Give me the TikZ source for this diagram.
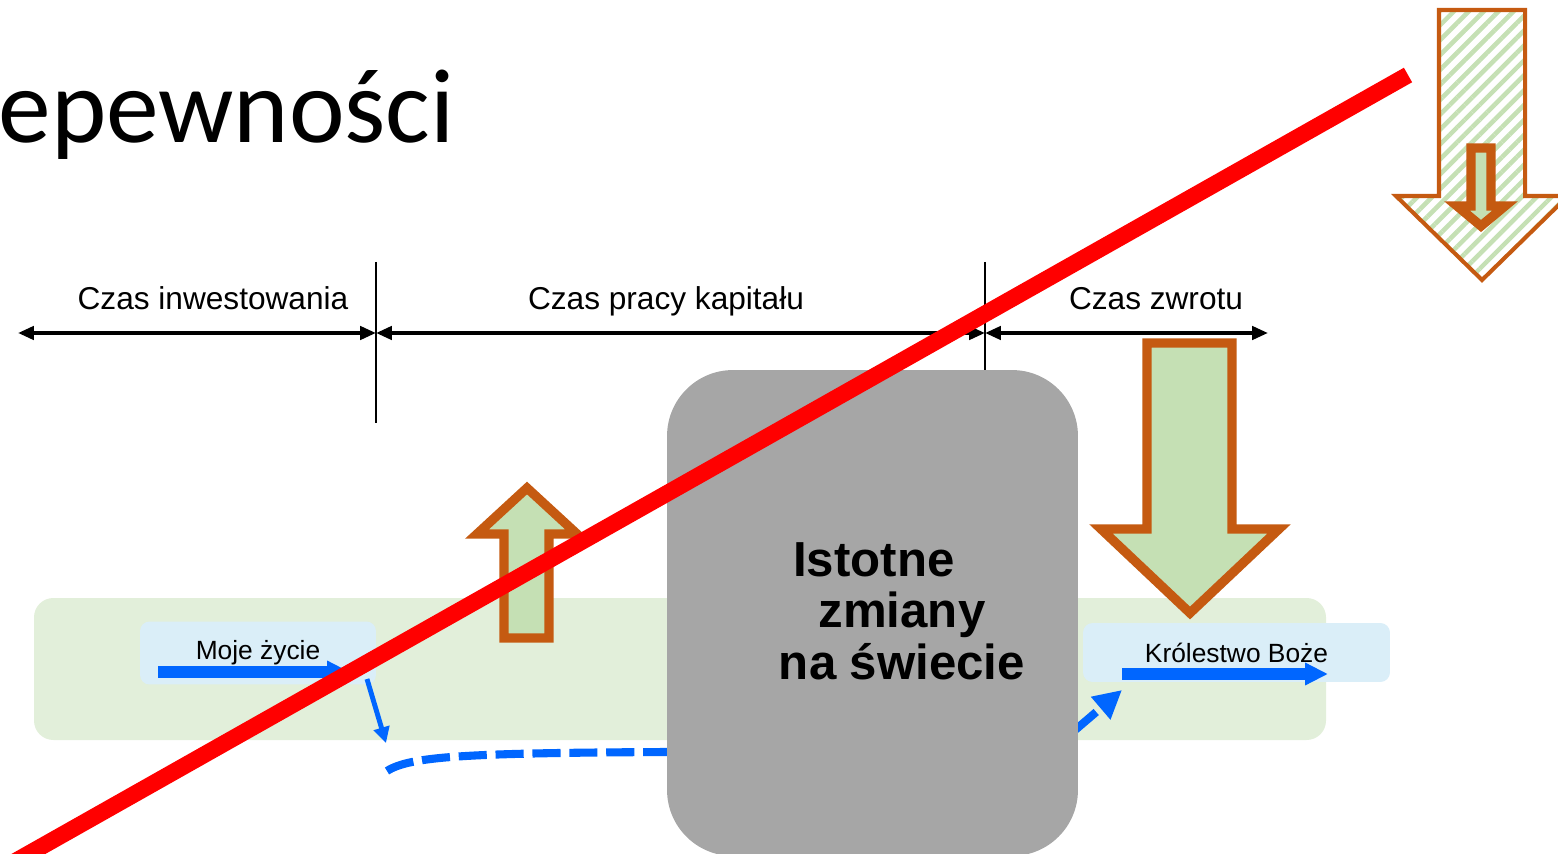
\documentclass[tikz,border=0pt]{standalone}
\usepackage{fontspec}
\setmainfont{Liberation Sans}
\newfontfamily\titlefont{Carlito}
\usetikzlibrary{arrows.meta,patterns.meta}

\definecolor{arrowrim}{HTML}{C55A11}
\definecolor{arrowfill}{HTML}{C5E0B4}
\definecolor{bandgreen}{HTML}{E2EFDA}
\definecolor{boxblue}{HTML}{DAEEF8}
\definecolor{flowblue}{HTML}{0066FF}
\definecolor{shiftgray}{HTML}{A6A6A6}

\tikzset{
	timeline/.style = {<->, >={Triangle[length=9pt, width=7.5pt]}, line width=2.1pt},
	tick/.style = {line width=1.2pt},
	period/.style = {anchor=base, font=\fontsize{18}{20}\selectfont},
	lifebox/.style = {fill=boxblue, rounded corners=5.5pt, inner sep=0pt, font=\fontsize{15}{17}\selectfont},
	flowbar/.style = {-{Triangle[length=13pt, width=12pt]}, flowblue, line width=6.8pt},
	flowstep/.style = {-{Triangle[length=9pt, width=9pt]}, flowblue, line width=2.8pt},
	flowdash/.style = {-{Triangle[length=16pt, width=16pt]}, flowblue, line width=4.6pt, dash pattern=on 16pt off 5pt},
	bigarrow/.style = {draw=arrowrim, fill=arrowfill, line width=5.3pt, line join=miter},
	hatcharrow/.style = {draw=arrowrim, line width=2.3pt, line join=miter, pattern={Lines[angle=45, distance=6pt, line width=2.6pt]}, pattern color=arrowfill},
	shiftbox/.style = {fill=shiftgray, rounded corners=1.32cm, inner sep=0pt, minimum width=8.22cm, minimum height=9.72cm},
	shifttext/.style = {align=center, font=\bfseries\fontsize{28}{29.3}\selectfont},
	crossout/.style = {red, line width=9.5pt, line cap=butt}
}

\begin{document}
\begin{tikzpicture}[x=0.02cm, y=-0.02cm]
	\useasboundingbox (0, 0) rectangle (1558, 854);

	% title
	\node [anchor=base east, inner sep=0pt] (title) at (455, 143) {\titlefont\fontsize{60}{72}\selectfont epewności};

	% time axis
	\coordinate (t0) at (18, 333);
	\coordinate (t1) at (376, 333);
	\coordinate (t2) at (985, 333);
	\coordinate (t3) at (1268, 333);
	\draw [tick] (376, 262) -- (376, 423);
	\draw [tick] (985, 262) -- (985, 420);
	\draw [timeline] (t0) -- (t1);
	\draw [timeline] (t1) -- (t2);
	\draw [timeline] (t2) -- (t3);
	\node [period] (invest) at (213, 310) {Czas inwestowania};
	\node [period] (work) at (666, 310) {Czas pracy kapitału};
	\node [period] (payback) at (1156, 310) {Czas zwrotu};

	% band and boxes
	\fill [bandgreen, rounded corners=11pt] (34, 598) rectangle (1326, 740);
	\node [lifebox, minimum width=4.72cm, minimum height=1.26cm] (life) at (258, 653) {Moje życie};
	\node [lifebox, minimum width=6.14cm, minimum height=1.18cm] (kingdom) at (1236.5, 652.5) {Królestwo Boże};

	% blue flow
	\coordinate (m0) at (158, 672);
	\coordinate (m1) at (350, 672);
	\coordinate (m2) at (367, 679);
	\coordinate (m3) at (386, 743);
	\coordinate (d0) at (387, 771);
	\coordinate (d1) at (667, 752);
	\coordinate (d2) at (1040, 760);
	\coordinate (d3) at (1122, 690);
	\coordinate (k0) at (1122, 674);
	\coordinate (k1) at (1328, 674);
	\draw [flowbar] (m0) -- (m1);
	\draw [flowstep] (m2) -- (m3);
	\draw [flowdash] (d0) .. controls (410, 756) and (470, 753) .. (d1) -- (d2) -- (d3);
	\draw [flowbar] (k0) -- (k1);

	% up arrow
	\draw [bigarrow] (504, 638) -- (504, 534) -- (477, 534) -- (527, 488) -- (577, 534) -- (549, 534) -- (549, 638) -- cycle;

	% grey block
	\node [shiftbox] (shift) at (872.5, 613) {};
	\node [shifttext] (shifttxt) at (902, 611) {Istotne\hspace{32pt}\null\\zmiany\\na świecie};

	% down arrow
	\draw [bigarrow] (1147, 343) -- (1232, 343) -- (1232, 529) -- (1279, 529) -- (1190, 613) -- (1101, 529) -- (1147, 529) -- cycle;

	% corner arrows
	\draw [hatcharrow] (1439, 10) -- (1525, 10) -- (1525, 196) -- (1568, 196) -- (1482, 280) -- (1396, 196) -- (1439, 196) -- cycle;
	\draw [bigarrow] (1471, 148) -- (1491, 148) -- (1491, 206) -- (1505, 206) -- (1481, 226) -- (1457, 206) -- (1471, 206) -- cycle;

	% cross
	\draw [crossout] (0, 870) -- (1408, 75);
\end{tikzpicture}
\end{document}
